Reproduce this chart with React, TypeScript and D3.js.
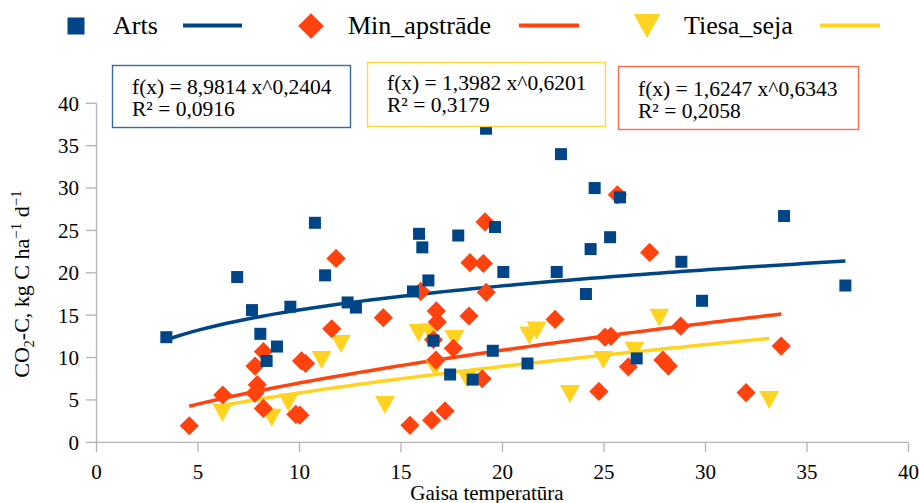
import React from "react";
import * as d3 from "d3";

// Measured CO2-C flux vs. air temperature, three treatments
const artsPoints: [number, number][] = [
  [3.44, 12.4], [6.93, 19.5], [7.66, 15.6], [8.07, 12.8], [8.38, 9.6], [8.89, 11.3],
  [9.55, 16.0], [10.76, 25.9], [11.26, 19.7], [12.37, 16.5], [12.78, 15.9], [15.59, 17.8],
  [15.89, 24.6], [16.05, 23.0], [16.35, 19.1], [16.6, 12.0], [17.42, 8.0], [17.82, 24.4],
  [18.53, 7.4], [19.19, 37.0], [19.63, 25.4], [19.52, 10.8], [20.04, 20.1], [21.23, 9.3],
  [22.67, 20.1], [22.88, 34.0], [24.11, 17.5], [24.34, 22.8], [24.54, 30.0], [25.3, 24.2],
  [25.79, 28.9], [26.61, 9.9], [28.81, 21.3], [29.83, 16.7], [33.87, 26.7], [36.89, 18.5],
];

const minPoints: [number, number][] = [
  [4.57, 1.95], [6.22, 5.58], [7.81, 9.0], [8.22, 10.7], [7.92, 6.8], [7.8, 5.8], [8.22, 4.0],
  [9.82, 3.3], [10.02, 3.2], [10.1, 9.6], [10.3, 9.3], [11.59, 13.4], [11.8, 21.7],
  [14.13, 14.7], [15.44, 2.0], [15.97, 17.8], [16.51, 2.6], [16.6, 12.1], [16.72, 9.7],
  [16.74, 15.5], [16.79, 14.2], [17.17, 3.7], [17.58, 11.1], [18.35, 14.9], [18.4, 21.2],
  [19.0, 7.5], [19.06, 21.1], [19.14, 26.0], [19.2, 17.7], [22.59, 14.5], [24.75, 6.0],
  [25.05, 12.4], [25.34, 12.5], [25.66, 29.2], [26.2, 8.9], [27.25, 22.4], [27.9, 9.7],
  [28.17, 9.0], [28.78, 13.7], [32.0, 5.85], [33.73, 11.35],
];

const tiesaPoints: [number, number][] = [
  [6.2, 3.5], [8.63, 2.9], [9.45, 4.7], [11.09, 9.7], [12.04, 11.6], [14.21, 4.4],
  [15.87, 12.9], [16.43, 13.0], [16.67, 8.8], [17.63, 12.2], [18.25, 7.5], [21.32, 12.6],
  [21.68, 13.2], [23.32, 5.7], [24.97, 9.7], [26.5, 10.8], [27.72, 14.7], [33.14, 5.0],
];

const seriesNames = ["Arts", "Min_apstrāde", "Tiesa_seja"];
const seriesColors = ["#004586", "#ff420e", "#ffd320"];
const boxColors = ["#3a6aa6", "#ff6a48", "#ffd83a"];

// Power trendlines f(x) = a·x^b
const trendA = [8.9814, 1.6247, 1.3982];
const trendB = [0.2404, 0.6343, 0.6201];
const trendR2 = [0.0916, 0.2058, 0.3179];

const xTicks = [0, 5, 10, 15, 20, 25, 30, 35, 40];
const yTicks = [0, 5, 10, 15, 20, 25, 30, 35, 40];

const W = 919;
const H = 503;
const FONT = "'Liberation Serif', 'Times New Roman', serif";

const x = d3.scaleLinear().domain([0, 40]).range([96.5, 908.5]);
const y = d3.scaleLinear().domain([0, 40]).range([442.3, 103.3]);

const fmt = (v: number) => v.toFixed(4).replace(".", ",");

function marker(kind: number, cx: number, cy: number, color: string, s: number, key?: string | number) {
  if (kind === 0) {
    const h = s * 0.5;
    return <rect key={key} x={cx - h} y={cy - h} width={s} height={s} fill={color} />;
  }
  if (kind === 1) {
    const r = s * 0.8;
    return (
      <path key={key} d={`M${cx},${cy - r}L${cx + r},${cy}L${cx},${cy + r}L${cx - r},${cy}Z`} fill={color} />
    );
  }
  const w = s * 0.83;
  const hh = s * 0.75;
  return (
    <path key={key} d={`M${cx - w},${cy - hh}L${cx + w},${cy - hh}L${cx},${cy + hh}Z`} fill={color} />
  );
}

function trendPath(i: number, pts: [number, number][]) {
  const [x0, x1] = d3.extent(pts, (d) => d[0]) as [number, number];
  const xs = d3.range(0, 81).map((k) => x0 + ((x1 - x0) * k) / 80);
  const line = d3
    .line<number>()
    .x((v) => x(v))
    .y((v) => y(trendA[i] * Math.pow(v, trendB[i])));
  return line(xs) || "";
}

const allSeries = [artsPoints, minPoints, tiesaPoints];

// equation boxes
const boxes: { series: number; bx: number; by: number; bw: number; bh: number; tx: number; ty: number }[] = [
  { series: 0, bx: 112.5, by: 65.5, bw: 238, bh: 62, tx: 132, ty: 94 },
  { series: 2, bx: 367.5, by: 62.5, bw: 238, bh: 64, tx: 387, ty: 90 },
  { series: 1, bx: 618.5, by: 66.5, bw: 240, bh: 63, tx: 638, ty: 96 },
];

const legendItems = [
  { series: 0, mx: 76, tx: 113, lx0: 183, lx1: 242 },
  { series: 1, mx: 311, tx: 348, lx0: 519, lx1: 579 },
  { series: 2, mx: 647, tx: 684, lx0: 820, lx1: 880 },
];

export default function App() {
  const axisColor = "#b3b3b3";
  return (
    <svg
      width={W}
      height={H}
      style={{ position: "absolute", left: 0, top: 0, background: "#fff" }}
      fontFamily={FONT}
    >
      <rect x={0} y={0} width={W} height={H} fill="#fff" />

      {/* axes */}
      <line x1={x(0)} x2={x(0)} y1={y(40)} y2={y(0)} stroke={axisColor} strokeWidth={1.3} />
      <line x1={x(0)} x2={x(40)} y1={y(0)} y2={y(0)} stroke={axisColor} strokeWidth={1.3} />
      {yTicks.map((t) => (
        <g key={`yt${t}`}>
          <line x1={x(0) - 10.5} x2={x(0)} y1={y(t)} y2={y(t)} stroke={axisColor} strokeWidth={1.3} />
          <text x={79} y={y(t)} dy="0.35em" textAnchor="end" fontSize={21} fill="#000">
            {t}
          </text>
        </g>
      ))}
      {xTicks.map((t) => (
        <g key={`xt${t}`}>
          <line x1={x(t)} x2={x(t)} y1={y(0)} y2={y(0) + 10} stroke={axisColor} strokeWidth={1.3} />
          <text x={x(t)} y={479} textAnchor="middle" fontSize={21} fill="#000">
            {t}
          </text>
        </g>
      ))}

      {/* axis titles */}
      <text x={487} y={500} textAnchor="middle" fontSize={21} fill="#000">
        Gaisa temperatūra
      </text>
      <text transform="translate(29,284) rotate(-90)" textAnchor="middle" fontSize={22} fill="#000">
        CO
        <tspan fontSize={14} dy={5}>2</tspan>
        <tspan dy={-5}>-C, kg C ha</tspan>
        <tspan fontSize={15} dy={-8}>−1</tspan>
        <tspan dy={8}> d</tspan>
        <tspan fontSize={15} dy={-8}>−1</tspan>
      </text>

      {/* trendlines */}
      {allSeries.map((pts, i) => (
        <path key={`tr${i}`} d={trendPath(i, pts)} fill="none" stroke={seriesColors[i]} strokeWidth={3.5} />
      ))}

      {/* points: Tiesa_seja below, then Min_apstrāde, then Arts on top */}
      <g>{tiesaPoints.map((d, k) => marker(2, x(d[0]), y(d[1]), seriesColors[2], 12, `t${k}`))}</g>
      <g>{minPoints.map((d, k) => marker(1, x(d[0]), y(d[1]), seriesColors[1], 12, `m${k}`))}</g>
      <g>{artsPoints.map((d, k) => marker(0, x(d[0]), y(d[1]), seriesColors[0], 12, `a${k}`))}</g>

      {/* equation boxes */}
      {boxes.map((b) => (
        <g key={`box${b.series}`}>
          <rect x={b.bx} y={b.by} width={b.bw} height={b.bh} fill="#fff" stroke={boxColors[b.series]} strokeWidth={1.4} />
          <text x={b.tx} y={b.ty} fontSize={21.5} fill="#000">
            {`f(x) = ${fmt(trendA[b.series])} x^${fmt(trendB[b.series])}`}
          </text>
          <text x={b.tx} y={b.ty + 22} fontSize={21.5} fill="#000">
            {`R² = ${fmt(trendR2[b.series])}`}
          </text>
        </g>
      ))}

      {/* legend */}
      {legendItems.map((l) => (
        <g key={`lg${l.series}`}>
          {marker(l.series, l.mx, 26, seriesColors[l.series], l.series === 0 ? 17 : 16)}
          <text x={l.tx} y={34} fontSize={26} fill="#000">
            {seriesNames[l.series]}
          </text>
          <line x1={l.lx0} x2={l.lx1} y1={25.5} y2={25.5} stroke={seriesColors[l.series]} strokeWidth={4} />
        </g>
      ))}
    </svg>
  );
}
